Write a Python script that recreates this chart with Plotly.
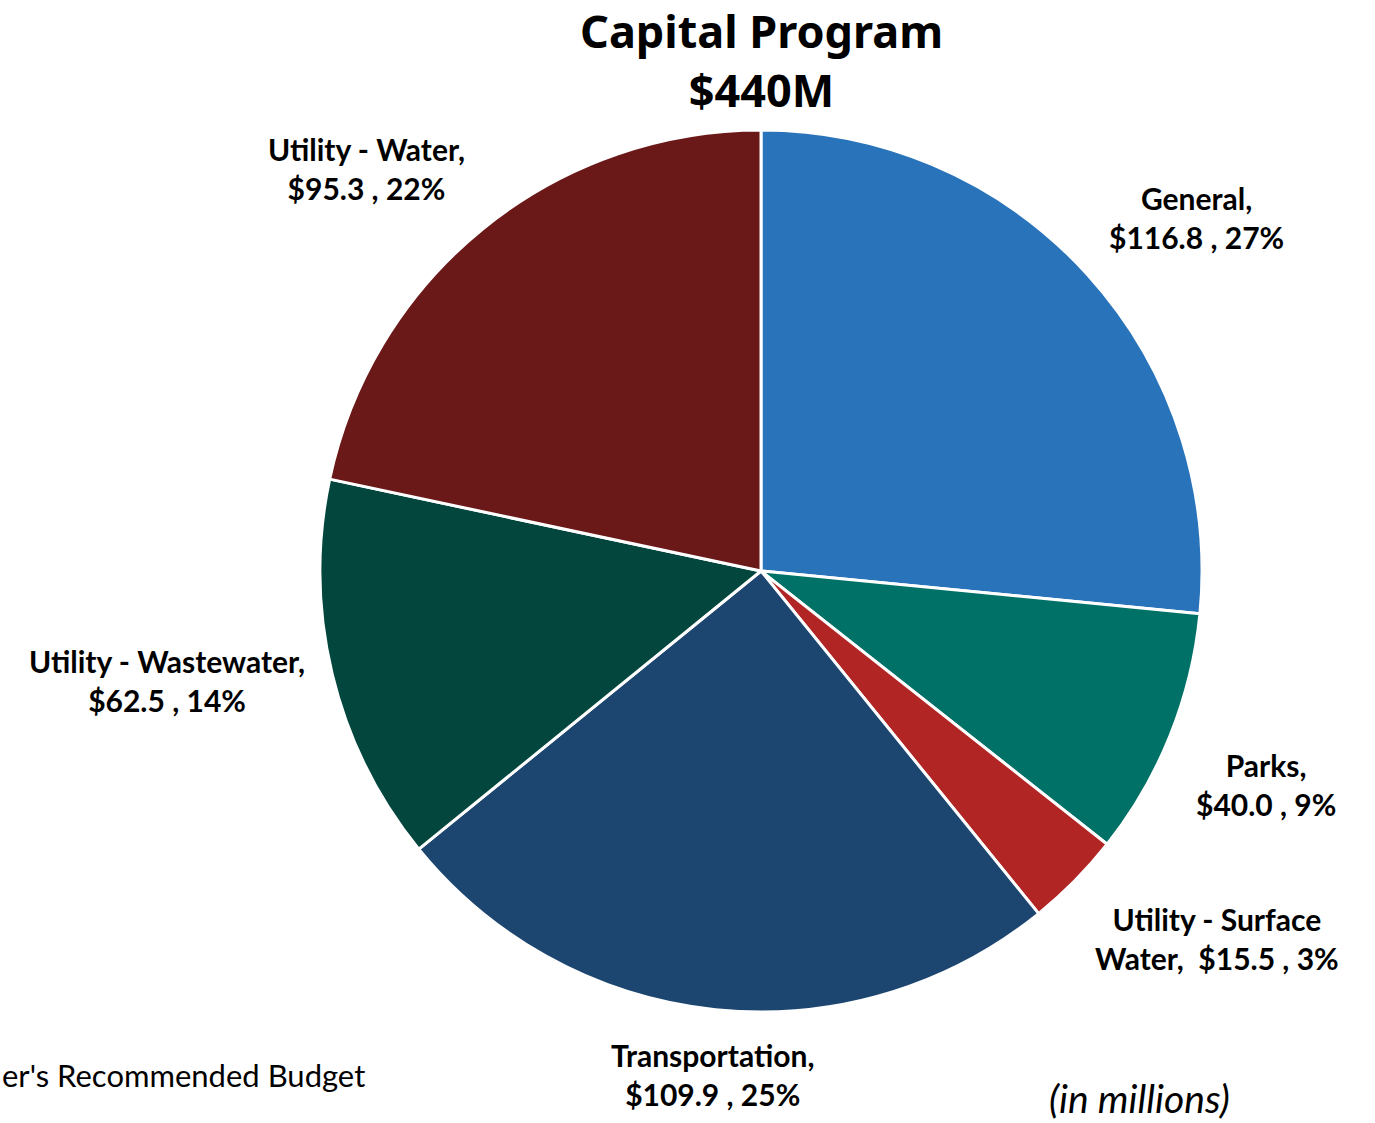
import math
import plotly.graph_objects as go

# ---- data ----
categories = ["General", "Parks", "Utility - Surface Water", "Transportation",
              "Utility - Wastewater", "Utility - Water"]
values = [116.8, 40.0, 15.5, 109.9, 62.5, 95.3]
label_texts = [
    "General,<br>$116.8 , 27%",
    "Parks,<br>$40.0 , 9%",
    "Utility - Surface<br>Water,  $15.5 , 3%",
    "Transportation,<br>$109.9 , 25%",
    "Utility - Wastewater,<br>$62.5 , 14%",
    "Utility - Water,<br>$95.3 , 22%",
]
colors = ["#2873BA", "#007166", "#B12524", "#1C4570", "#02463D", "#6A1918"]
title_text = "<b>Capital Program<br>$440M</b>"

# ---- layout geometry ----
W, H = 1375, 1123
cx, cy = 761, 571   # pie centre in pixels (from top)
R = 441             # pie radius in pixels

fig = go.Figure()
fig.add_trace(go.Pie(
    labels=categories,
    values=values,
    sort=False,
    direction="clockwise",
    rotation=0,
    textinfo="none",
    hoverinfo="label+value+percent",
    marker=dict(colors=colors, line=dict(color="white", width=3)),
    domain=dict(x=[(cx - R) / W, (cx + R) / W],
                y=[(H - cy - R) / H, (H - cy + R) / H]),
    showlegend=False,
))

# data labels positioned from each slice's mid-angle
total = sum(values)
cum = 0.0
annotations = []
gap = 26
for v, txt in zip(values, label_texts):
    mid = (cum + v / 2) / total * 2 * math.pi
    cum += v
    s, c = math.sin(mid), math.cos(mid)
    px = cx + (R + gap) * s
    py = cy - (R + gap) * c
    xa = "left" if s > 0.3 else ("right" if s < -0.3 else "center")
    ya = "bottom" if c > 0.3 else ("top" if c < -0.3 else "middle")
    annotations.append(dict(
        x=px / W, y=1 - py / H, xref="paper", yref="paper",
        text=f"<b>{txt}</b>", showarrow=False, xanchor=xa, yanchor=ya,
        align="center",
        font=dict(family="Lato, Noto Sans, sans-serif", size=30, color="black"),
    ))

annotations.append(dict(
    x=cx / W, y=1.0, xref="paper", yref="paper", text=title_text,
    showarrow=False, xanchor="center", yanchor="top", align="center",
    font=dict(family="Noto Sans, Open Sans, sans-serif", size=45, color="black"),
    yshift=2,
))
annotations.append(dict(
    x=0, y=1 - 1075 / H, xref="paper", yref="paper",
    text="er's Recommended Budget", showarrow=False,
    xanchor="left", yanchor="middle",
    font=dict(family="Lato, sans-serif", size=31, color="black"),
))
annotations.append(dict(
    x=1139 / W, y=0, xref="paper", yref="paper",
    text="<i>(in millions)</i>", showarrow=False,
    xanchor="center", yanchor="bottom",
    font=dict(family="Lato, Noto Sans, sans-serif", size=39, color="black"),
))

fig.update_layout(
    width=W, height=H,
    margin=dict(l=0, r=0, t=0, b=0),
    paper_bgcolor="white", plot_bgcolor="white",
    annotations=annotations,
)

fig.write_html(
    "out.html",
    config={"displayModeBar": False},
    post_script="document.body.style.margin='0';document.body.style.overflow='hidden';",
)
